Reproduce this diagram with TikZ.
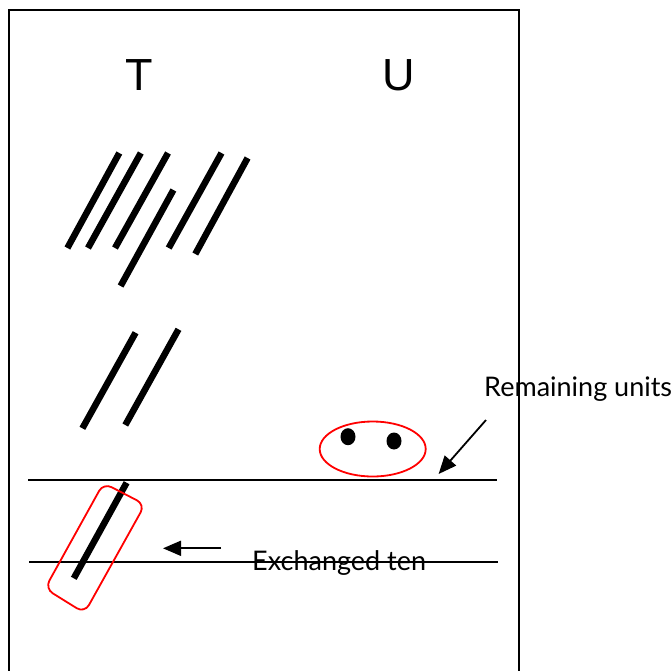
\documentclass[tikz,border=0pt]{standalone}
\usepackage{fontspec}
\setmainfont{Liberation Sans}
\newfontfamily\labelfont{Lato}
\usetikzlibrary{arrows.meta}
\begin{document}
\begin{tikzpicture}[x=1pt,y=-1pt,
  frameline/.style={line width=2pt},
  rule/.style={line width=2pt},
  tenstick/.style={line width=6.5pt},
  ring/.style={draw=red,line width=1.8pt},
  pointer/.style={line width=1.8pt,-{Triangle[length=18pt,width=15pt]}},
  head/.style={font=\fontsize{45}{50}\selectfont},
  caption/.style={font=\labelfont\fontsize{27}{30}\selectfont,inner sep=0pt}]
\useasboundingbox (0,0) rectangle (671,670);
\fill[white] (0,0) rectangle (671,670);
% frame
\draw[frameline] (9,672) -- (9,10) -- (519,10) -- (519,672);
% headings
\node[head,anchor=base] (T) at (139,90.7) {T};
\node[head,anchor=base] (U) at (399,90.7) {U};
% tens
\draw[tenstick] (119.3,153) -- (67.4,248);
\draw[tenstick] (140.8,153) -- (88,248);
\draw[tenstick] (168,153) -- (115,248);
\draw[tenstick] (173.4,190) -- (120.6,286);
\draw[tenstick] (221.5,153) -- (168.7,248);
\draw[tenstick] (247.6,158) -- (195.3,254);
\draw[tenstick] (135.6,332.7) -- (82.4,428.3);
\draw[tenstick] (178.5,329.3) -- (125.3,425);
% rules
\draw[rule] (28,479.5) -- (496.5,479.5);
\draw[rule] (29,562) -- (498,562);
% units
\draw[ring] (372.7,449) ellipse [x radius=53, y radius=27.5];
\fill (348,436.7) ellipse [x radius=7.5, y radius=8.5];
\fill (394,441) ellipse [x radius=7.5, y radius=8.5];
% exchanged ten
\draw[tenstick] (126.6,482.7) -- (73.8,578.3);
\draw[ring,rounded corners=9pt] (103.5,483) -- (145,504.5) -- (84.5,613) -- (45,588.5) -- cycle;
% labels
\node[caption,anchor=base west] (rem) at (484,396.7) {Remaining units};
\node[caption,anchor=base west] (exch) at (252,570) {Exchanged ten};
\coordinate (ra) at (486,420);
\coordinate (rb) at (438.6,474);
\coordinate (ea) at (221,548.3);
\coordinate (eb) at (163,548.3);
\draw[pointer] (ra) -- (rb);
\draw[pointer] (ea) -- (eb);
\end{tikzpicture}
\end{document}
